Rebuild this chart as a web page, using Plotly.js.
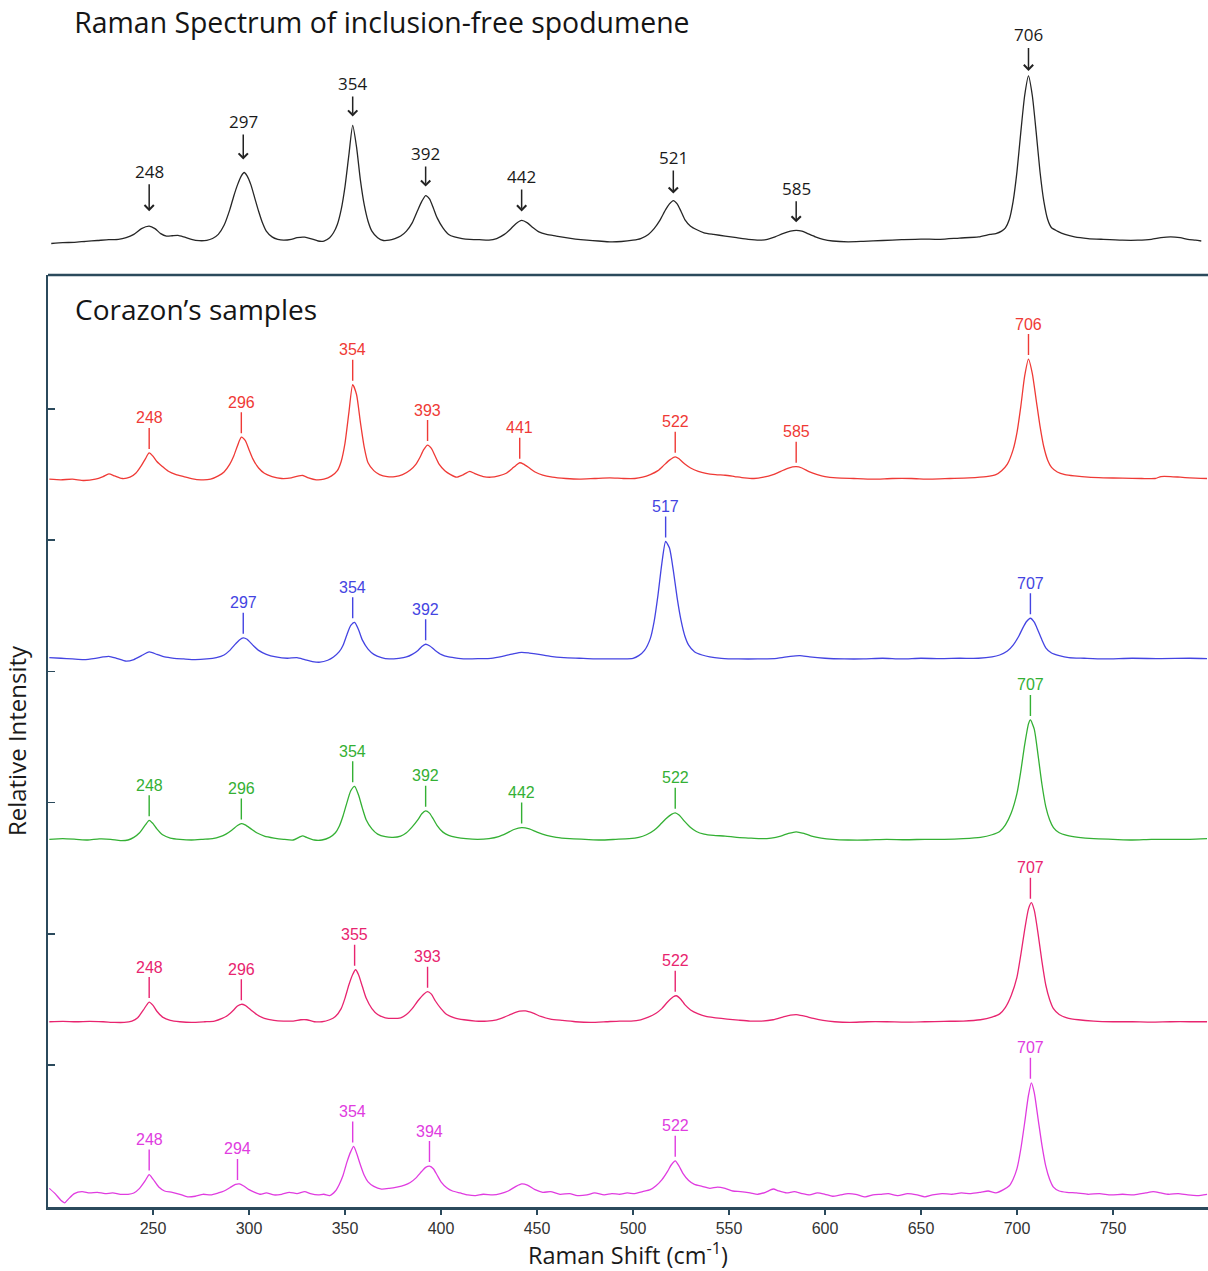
<!DOCTYPE html>
<html>
<head>
<meta charset="utf-8">
<script src="https://cdn.plot.ly/plotly-3.0.1.min.js"></script>
<style>html,body{margin:0;padding:0;background:#fff;}#chart{width:1208px;height:1271px;}</style>
</head>
<body>
<div id="chart"></div>
<script>
// ---------- DATA ----------
const xTickVals = [250, 300, 350, 400, 450, 500, 550, 600, 650, 700, 750];
const yTickVals = [100, 200, 300, 400, 500, 600];

// Reference spectrum (inclusion-free spodumene), relative intensity (706 peak = 100)
const topShift = [197,203,209,215,221,227,232,236,240,244,248,251,254,257,260,263,266,270,274,278,281,284,287,290,292,294,296,297.5,299,301,303,305,307,309,312,315,318,322,325,329,332,336,339,342,344,346,348,350,352,354,356,358,360,362,364,367,370,373,376,379,382,385,388,390,392,394,396,398,401,404,407,411,415,420,425,429,433,436,439,442,445,448,451,455,460,465,470,476,482,488,494,500,504,508,511,514,517,519,521,523,525,527,530,533,537,542,548,554,560,566,570,574,578,582,585,588,591,595,599,604,612,620,630,640,650,660,670,680,686,689,692,694,696,698,700,702,704,706,708,710,712,714,716,718,721,725,730,737,745,755,763,770,775,780,785,789,793,796];
const topIntensity = [-1.5,-1,-0.8,-0.2,0.3,0.8,1,2,4,7.5,9,7.5,4.5,3,3.2,3.4,2.5,1,0.2,0.4,1.5,4,9.5,19,27,34,39.5,41.5,39.5,34,26,18,11,6,2.5,1,0.5,1,2,2.3,1.5,0,0,2,5,10,19,33,52,70,57,37,22,12,6,2,0.3,0.5,1.5,3,6,11,19,24,27.5,25.5,20,14,8,4,2.5,1.5,1,0.8,0.5,1.5,4,7,10.5,12.5,11,8,5.5,4,3,2,1.2,0.5,0,-0.5,-0.3,0.5,1.5,4,7.5,12.5,19,22.5,24.5,22.5,18,13,9,7,5,4,3,2,1,0.5,1,2.5,4.5,6,6.5,6,4.5,2.5,1,0,-0.5,-0.2,0.3,0.8,1.2,1,1.8,2.5,4,4.5,6,8,13,24,42,66,88,100,88,66,42,24,13,8,6,4,2.5,1.5,1,0.5,0.5,1,2,2.5,2,1,0.5,0];
const topPeakLabels = [248, 297, 354, 392, 442, 521, 585, 706];

// Corazon's samples (stacked, arbitrary units)
const sampleOffsets = [547, 410, 272, 133, 1];

const redShift = [196,202,208,214,220,224,227,230,234,238,241,244,246,248,250,252,255,258,262,266,270,275,280,284,287,290,292,294,296,298,300,302,305,308,312,317,322,326,328,331,335,339,343,346,348,350,352,354,356,358,360,362,365,368,372,376,380,384,387,389,391,393,395,397,399,402,405,408,411,415,418,422,426,430,434,437,439,441,443,446,449,453,458,465,472,480,488,495,501,505,509,513,516,519,522,524,527,530,534,538,543,548,553,558,563,568,573,577,581,585,588,592,596,600,606,615,625,635,645,655,665,675,684,689,692,695,698,700,702,704,706,708,710,712,714,716,718,721,725,730,737,745,755,765,772,775,780,785,790,799];
const redIntensity = [-0.5,-1,-0.5,-1.5,-0.5,1.5,3.5,2,0,1,4,10,15,19.5,17,13,9,5.5,3,1.5,0,-1,-0.5,2,5,11,17,25,31.5,29,22,15,8,4,1.5,0,0.5,2,2.3,0.5,-1,-0.5,2,6,13,27,50,71.5,64,43,24,12,6,3,1.5,1.5,3,6.5,11,16,22,25.5,23,17,11,6,3,1,2.5,5.5,3.5,1.5,1,2,4,7.5,10,12,11,8,5,2.5,1,0,-0.5,0,0.5,0,0,1,3,6,10,14,16.5,15,11,8,5.5,4,3,2.5,1.5,0.5,0,1,3,5.5,8,9,8,5,3,1.5,0.5,0,-0.5,0,0,-0.5,0,0.5,1.5,3,6,11,22,35,55,78,91,80,60,40,24,14,8.5,5,3,2,1,0.5,0.3,0,0,1.5,1.5,1,0.5,0];
const redPeakLabels = [248, 296, 354, 393, 441, 522, 585, 706];

const blueShift = [196,202,208,214,220,224,227,231,236,240,244,248,252,256,261,266,272,278,283,287,290,293,295,297,299,302,305,309,314,320,325,329,333,337,341,344,347,349,351,353,355,357,359,362,365,369,373,378,382,385,388,390,392,394,397,400,404,409,414,420,426,432,438,442,446,451,457,464,472,480,488,495,500,503,506,509,511,513,515,517,519,521,523,525,527,529,532,536,540,546,555,565,575,582,587,592,600,610,620,630,640,650,660,670,680,687,691,695,698,701,703,705,707,709,711,713,715,718,722,727,735,745,760,775,790,799];
const blueIntensity = [0.5,0,-0.5,-1,0,1,1.5,0,-2.2,-1,2,4.8,3,1,0,-0.5,-1,-0.5,0.5,2.5,6,11,14,15.6,14.5,10,6,3,1,0,0.5,-1,-2.5,-3,-1.5,1,5,10,18,25,27.4,22,14,7,3,0.5,-0.5,0,1,3,6,9,10.7,9.5,6,3,1,0,-0.5,-0.3,0,1.5,3.5,4.5,4,3,1.5,0.5,0,-0.5,-0.5,-0.5,0,2,6,15,28,48,72,89,84,67,46,29,17,10,5,2.5,1,0,-0.5,-0.5,0,1.5,2,1,0,-0.5,-0.5,0,-0.5,0,-0.3,0,0,1,2.5,5.5,10,17,23,28,30.5,27.5,21,14,8,4,2,0.5,0,-0.5,0,-0.3,0,-0.3];
const bluePeakLabels = [297, 354, 392, 517, 707];

const greenShift = [196,203,210,216,222,228,233,237,240,243,246,248,250,252,255,259,264,270,276,281,285,288,291,294,296,298,301,304,308,313,318,323,326,328,330,334,338,342,345,347,349,351,353,355,357,359,361,364,367,371,375,379,382,385,388,390,392,394,396,398,401,404,408,413,419,425,430,434,438,442,446,450,455,460,467,475,483,491,498,503,507,511,514,517,520,522,524,527,530,533,537,542,548,554,560,566,572,577,581,585,589,593,598,604,612,622,632,642,652,662,672,681,687,691,694,697,700,702,704,706,707,709,711,713,715,717,719,722,726,732,740,750,760,770,780,790,799];
const greenIntensity = [0,0.5,0,-0.5,0.3,0,-1,-0.5,1.5,5,11,14.5,12,8,3.5,1,0,-0.5,0,0.5,2,4,7,10.5,12,11,8,5,2.5,1,0,-0.5,1.5,2.7,1.5,-0.5,-0.5,1.5,5,10,18,28,37,40.4,34,24,15,8,4,2,1.5,2.5,5,9.5,15,19.5,21.7,20,15.5,10.5,5.5,3,1.5,0.5,0,0.5,2,4.5,7.5,9,8,5.5,3,1.5,0.5,0,-0.5,0,0.5,1.5,3.5,7,11,15.5,19,20.2,18.5,13.5,9,6,4,3,2.5,1.5,1,0.5,1,2.5,4.5,5.7,4.5,2.5,1,0,-0.5,-0.5,0,-0.3,0,0,0.5,1.5,3.5,6,11,20,35,52,72,88,91,84,64,42,25,15,9,5,3,1.5,0.5,0,-0.5,0,0,0,0.5];
const greenPeakLabels = [248, 296, 354, 392, 442, 522, 707];

const pinkShift = [196,203,210,217,224,230,235,239,242,245,248,250,252,255,259,264,270,277,282,286,289,292,294,296,298,301,304,308,313,318,323,327,330,334,338,342,345,348,350,352,354,355.5,357,359,361,364,367,371,375,379,382,385,388,391,393,395,397,400,403,407,412,418,424,429,433,437,441,444,448,452,457,463,470,478,486,493,499,504,508,512,515,518,521,522.5,525,527,530,534,538,543,549,555,561,567,573,578,582,586,590,594,599,605,613,622,632,642,652,662,672,681,687,691,694,697,700,702,704,706,707.5,709,711,713,715,717,719,722,726,732,740,750,760,770,780,790,799];
const pinkIntensity = [0,0.3,0,0.3,0,-0.5,-0.5,0.5,3,9,15,12.5,8,3.5,1,0,-0.5,0,0.5,2.5,5,9,12,13.3,12.5,9,5.5,2.5,1,0.5,0.5,1.5,1.5,0,0,1.5,4,10,18,28,36,39.6,36,27,18,10,5.5,3,2.5,3,5.5,10,16,21,22.9,21,16,10,5.5,3,1.5,0.5,0.5,1.5,3.5,6,8,8.2,6.5,4,2,1,0,-0.5,0,0.5,0.5,1.5,3.5,6.5,10,15,19,19.8,17,13,9,6,4,3,2,1.2,0.5,0.5,1.5,3.5,5,5.3,4,2.5,1,0,-0.5,0,0,-0.3,0,0.3,0.5,1.5,3.5,6,11,20,34,51,70,86,90.7,85,67,46,28,17,10,5.5,3,1.5,0.5,0,0,-0.3,0,0,0];
const pinkPeakLabels = [248, 296, 355, 393, 522, 707];

const magentaShift = [196,199,202,204,206,209,213,217,221,225,229,233,237,240,243,246,248,250,253,256,260,264,268,272,276,280,284,287,290,293,295,297,300,303,306,309,313,317,321,325,329,332,336,339,342,345,347,349,351,353,354.5,356,358,360,362,365,369,373,377,381,384,387,390,392,394,396,398,400,403,406,410,414,418,422,427,431,435,439,442,445,449,453,457,462,467,471,476,480,485,489,493,497,501,505,509,512,515,518,520,522,524,526,529,532,536,540,544,548,552,556,561,565,569,573,576,580,584,588,592,596,600,604,608,612,616,621,625,629,633,638,643,648,652,656,661,666,671,676,681,685,689,693,696,698,700,702,704,706,707.5,709,711,713,715,717,719,722,726,731,737,743,749,755,761,767,771,775,779,784,789,794,799];
const magentaIntensity = [5,1,-4,-6,-3,1,2.5,1.5,2,1,1.5,0.5,0.5,1.5,5,11,15.5,12,6,3,2,0.5,-1.5,-1,0.5,0,1.5,3,5.5,8,8.4,7,4,2,0.5,1.5,0,0.5,2,1,2.5,1,0,0.5,-0.5,3,8,15,25,33,37,32,23,15,10,6.5,4.5,5,6,7.5,9.5,13,18,21,22,20,15,10,5.5,3,1.5,0,-0.5,0.5,0,1,3,6.5,8.4,7.5,4,2,2.5,0.5,1,-0.5,0,1.5,0,1,0.5,1.5,1,2.5,4,7,11.5,18,23,26,22,16.5,11,8,6.5,5,6,5,3,2.5,1.5,0.5,2,4.5,3,1.5,2.5,1,0,1.5,0.5,-1,0,1,0.5,-1.5,0,0.5,1,-0.5,1,0,-1.5,0,1,0.5,1.5,1,2,3,1.5,4,7,12,20,35,55,76,85.4,78,58,38,22,12,6,3,2,1.5,0.5,1,0,0.5,0,1.5,2.5,1.5,0.5,1,0,-0.5,0.5];
const magentaPeakLabels = [248, 294, 354, 394, 522, 707];

// ---------- STYLE ----------
const frameColor = '#2b4a5c';
const seriesColors = ['#ef3a36', '#4444e2', '#34b034', '#e8246f', '#e03ce0'];
const topRise = [55, 51, 42, 42, 44, 43, 42, 41];
const topGap  = [15, 13, 9, 9, 9, 7, 8, 5];

const samples = [
  {x: redShift, y: redIntensity, peaks: redPeakLabels},
  {x: blueShift, y: blueIntensity, peaks: bluePeakLabels},
  {x: greenShift, y: greenIntensity, peaks: greenPeakLabels},
  {x: pinkShift, y: pinkIntensity, peaks: pinkPeakLabels},
  {x: magentaShift, y: magentaIntensity, peaks: magentaPeakLabels}
];

function peakValue(xs, ys, p) {
  let best = -Infinity;
  for (let i = 0; i < xs.length; i++) {
    if (Math.abs(xs[i] - p) <= 2.6 && ys[i] > best) best = ys[i];
  }
  return best;
}

const traces = [];
traces.push({
  x: topShift, y: topIntensity, type: 'scatter', mode: 'lines',
  xaxis: 'x2', yaxis: 'y2', line: {color: '#262626', width: 1.3, shape: 'spline', smoothing: 0.6}, hoverinfo: 'skip'
});
samples.forEach((s, k) => {
  traces.push({
    x: s.x, y: s.y.map(v => v + sampleOffsets[k]), type: 'scatter', mode: 'lines',
    xaxis: 'x', yaxis: 'y', line: {color: seriesColors[k], width: 1.3, shape: 'spline', smoothing: 0.6}, hoverinfo: 'skip'
  });
});

const annotations = [];
topPeakLabels.forEach((p, i) => {
  annotations.push({
    x: p, y: peakValue(topShift, topIntensity, p), xref: 'x2', yref: 'y2',
    text: String(p), showarrow: true, arrowhead: 4, arrowsize: 1.2, arrowwidth: 1.5,
    arrowcolor: '#222', ax: 0, ay: -topRise[i], standoff: topGap[i],
    font: {family: 'Open Sans, sans-serif', size: 17, color: '#1a1a1a'}
  });
});
samples.forEach((s, k) => {
  s.peaks.forEach(p => {
    annotations.push({
      x: p, y: peakValue(s.x, s.y, p) + sampleOffsets[k], xref: 'x', yref: 'y',
      text: String(p), showarrow: true, arrowhead: 0, arrowwidth: 1.4,
      arrowcolor: seriesColors[k], ax: 0, ay: -35, standoff: 4,
      font: {family: 'Liberation Sans, Arial, sans-serif', size: 16, color: seriesColors[k]}
    });
  });
});
annotations.push({
  x: 0.0215, y: 0.7565, xref: 'paper', yref: 'paper', xanchor: 'left', yanchor: 'middle',
  text: 'Corazon\u2019s samples', showarrow: false,
  font: {family: 'Open Sans, sans-serif', size: 28, color: '#151515'}
});

const layout = {
  width: 1208, height: 1271,
  margin: {l: 48, r: 0, t: 20, b: 64},
  paper_bgcolor: '#ffffff', plot_bgcolor: '#ffffff',
  showlegend: false, hovermode: false,
  title: {
    text: 'Raman Spectrum of inclusion-free spodumene',
    x: 0.0615, xanchor: 'left', y: 0.9820, yanchor: 'middle',
    font: {family: 'Open Sans, sans-serif', size: 28.4, color: '#151515'}
  },
  xaxis: {
    domain: [0, 1], range: [195.3, 799.5], anchor: 'y',
    tickvals: xTickVals, ticktext: xTickVals.map(String),
    ticks: 'outside', ticklen: 5, tickwidth: 1.5, tickcolor: frameColor,
    showline: true, linecolor: frameColor, linewidth: 2.5,
    showgrid: false, zeroline: false, automargin: false,
    tickfont: {family: 'Liberation Sans, Arial, sans-serif', size: 16, color: '#333'},
    title: {text: 'Raman Shift (cm<sup>-1</sup>)', standoff: 6,
            font: {family: 'Open Sans, sans-serif', size: 23.5, color: '#1a1a1a'}}
  },
  yaxis: {
    domain: [0, 0.78517], range: [-8.2, 702.1], anchor: 'x',
    tickvals: yTickVals, showticklabels: false,
    ticks: 'inside', ticklen: 7, tickwidth: 1.5, tickcolor: frameColor,
    showline: true, linecolor: frameColor, linewidth: 2.5,
    showgrid: false, zeroline: false, automargin: false,
    title: {text: 'Relative Intensity', standoff: 12,
            font: {family: 'Open Sans, sans-serif', size: 24, color: '#1a1a1a'}}
  },
  xaxis2: {domain: [0, 1], range: [195.3, 799.5], anchor: 'y2', visible: false},
  yaxis2: {domain: [0.80623, 1], range: [-5.45, 133.9], anchor: 'x2', visible: false},
  shapes: [{
    type: 'line', xref: 'paper', yref: 'paper', x0: 0, x1: 1, y0: 0.78517, y1: 0.78517,
    line: {color: frameColor, width: 2.5}
  }],
  annotations: annotations
};

Plotly.newPlot('chart', traces, layout, {staticPlot: true, displayModeBar: false});
</script>
</body>
</html>
